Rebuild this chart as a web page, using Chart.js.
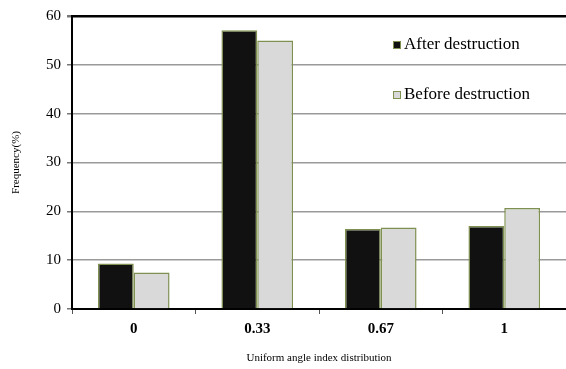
<!DOCTYPE html>
<html>
<head>
<meta charset="utf-8">
<script src="https://cdn.jsdelivr.net/npm/chart.js@4.4.0/dist/chart.umd.min.js"></script>
<style>
  html, body { margin: 0; padding: 0; background: #fff; }
  #wrap { width: 566px; height: 369px; }
</style>
</head>
<body>
<div id="wrap"><canvas id="angleChart"></canvas></div>
<script>
const categories = ['0', '0.33', '0.67', '1'];
const afterDestruction = [9.3, 57.1, 16.4, 17.0];
const beforeDestruction = [7.5, 55.0, 16.7, 20.7];
const yTicks = [0, 10, 20, 30, 40, 50, 60];

// legend drawn inside the plot, like the original
const innerLegend = {
    id: 'innerLegend',
    afterDraw(chart) {
        const c = chart.ctx;
        const rows = [45, 95];
        c.save();
        c.font = '17px "Liberation Serif"';
        c.textBaseline = 'middle';
        chart.data.datasets.forEach((ds, i) => {
            const y = rows[i];
            c.fillStyle = ds.backgroundColor;
            c.strokeStyle = ds.borderColor;
            c.lineWidth = 1;
            c.fillRect(393, y - 4, 8, 8);
            c.strokeRect(393.5, y - 3.5, 7, 7);
            c.fillStyle = '#000';
            c.fillText(ds.label, 404, y);
        });
        c.restore();
    }
};

const ctx = document.getElementById('angleChart').getContext('2d');
const chart = new Chart(ctx, {
    type: 'bar',
    data: {
        labels: categories,
        datasets: [{
            label: 'After destruction',
            backgroundColor: '#111111',
            borderColor: '#7f9150',
            borderWidth: 1.5,
            data: afterDestruction
        }, {
            label: 'Before destruction',
            backgroundColor: '#d9d9d9',
            borderColor: '#7f9150',
            borderWidth: 1.5,
            data: beforeDestruction
        }]
    },
    options: {
        responsive: true,
        maintainAspectRatio: false,
        animation: false,
        layout: { padding: { top: 16, right: 0, left: 0, bottom: 0 } },
        datasets: { bar: { categoryPercentage: 0.58, barPercentage: 1.0 } },
        plugins: {
            legend: { display: false },
            tooltip: { enabled: false }
        },
        scales: {
            x: {
                afterFit(scale) { scale.height = 60; },
                grid: { drawOnChartArea: false, drawTicks: true, tickLength: 5, color: '#555', lineWidth: 1 },
                border: { color: '#000', width: 2 },
                ticks: {
                    color: '#000',
                    padding: 6,
                    font: { family: 'Liberation Serif', size: 15, weight: 'bold' }
                },
                title: {
                    display: true,
                    text: 'Uniform angle index distribution',
                    color: '#000',
                    padding: { top: 0 },
                    font: { family: 'Liberation Serif', size: 11 }
                }
            },
            y: {
                min: 0,
                max: 60,
                afterFit(scale) { scale.width = 72; },
                afterBuildTicks(scale) { scale.ticks = yTicks.map(v => ({ value: v })); },
                grid: {
                    color: c => c.tick && c.tick.value === 60 ? '#000' : '#9a9a9a',
                    lineWidth: c => c.tick && c.tick.value === 60 ? 2.5 : 1.5,
                    tickColor: '#777',
                    tickLength: 5
                },
                border: { color: '#000', width: 2 },
                ticks: {
                    color: '#000',
                    padding: 6,
                    font: { family: 'Liberation Serif', size: 15 }
                },
                title: {
                    display: true,
                    text: 'Frequency(%)',
                    color: '#000',
                    padding: { top: 10, bottom: 4 },
                    font: { family: 'Liberation Serif', size: 11 }
                }
            }
        }
    },
    plugins: [innerLegend]
});
</script>
</body>
</html>
